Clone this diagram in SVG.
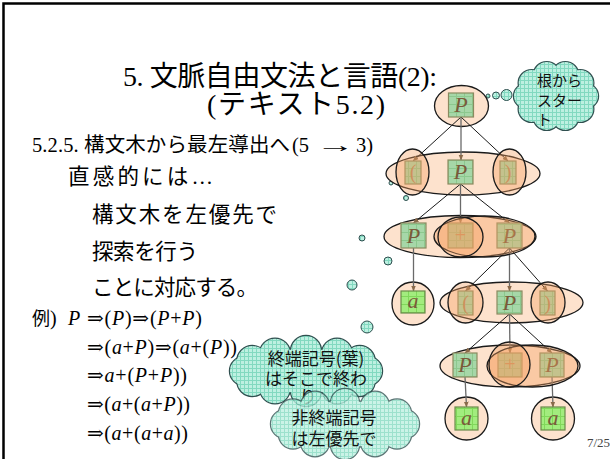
<svg xmlns="http://www.w3.org/2000/svg" width="610" height="459" viewBox="0 0 610 459">
<defs>
<style>
.ttl{font-family:"Liberation Serif","Noto Sans CJK JP",serif;font-size:28px;fill:#000;}
.b20{font-family:"Liberation Serif","Noto Sans CJK JP",serif;font-size:20.5px;fill:#000;}
.b22{font-family:"Liberation Serif","Noto Sans CJK JP",serif;font-size:21.5px;fill:#000;}
.ex{font-family:"Liberation Serif","DejaVu Serif","Noto Sans CJK JP",serif;font-size:20px;fill:#000;}
.jp{font-family:"Noto Sans CJK JP",sans-serif;font-size:18px;}
.i{font-style:italic;}
.big{fill:#fde2cd;stroke:#1a1a1a;stroke-width:1.3;}
.ov{fill:#f5a060;fill-opacity:.38;stroke:#1a1a1a;stroke-width:1.3;}
.bp{fill:url(#gP);stroke:#8a8a60;stroke-width:1.2;}
.ba{fill:url(#gA);stroke:#6a8a4a;stroke-width:1.2;}
.lp{font-family:"Liberation Serif",serif;font-style:italic;font-size:22px;fill:#7a5a3a;text-anchor:middle;}
.lt{font-family:"Liberation Serif",serif;font-size:20px;fill:#b8865a;text-anchor:middle;}
.ed{stroke:#6a6a6a;stroke-width:1.3;fill:none;marker-end:url(#ah);}
.dg{stroke:#1a1a1a;stroke-width:1;fill:none;marker-end:url(#ah);}
.cl{font-family:"Noto Sans CJK JP",sans-serif;fill:#111;}
.dot{fill:url(#cp);stroke:#2f4f4f;stroke-width:1;}
</style>
<pattern id="cp" width="4" height="4" patternUnits="userSpaceOnUse"><rect width="4" height="4" fill="#bdf0e1"/><path d="M0 .5H4M.5 0V4" stroke="#82d9c0" stroke-width="1"/></pattern>
<pattern id="gP" width="8" height="8" patternUnits="userSpaceOnUse"><rect width="8" height="8" fill="#a6d7a8"/><path d="M0 .5H8M.5 0V8" stroke="#8cc88e" stroke-width="1"/></pattern>
<pattern id="gA" width="8" height="8" patternUnits="userSpaceOnUse"><rect width="8" height="8" fill="#a2ec7e"/><path d="M0 .5H8M.5 0V8" stroke="#80d85a" stroke-width="1"/></pattern>
<marker id="ah" viewBox="0 0 10 10" refX="9" refY="5" markerWidth="6" markerHeight="6" markerUnits="userSpaceOnUse" orient="auto"><path d="M0,1L10,5L0,9z" fill="#8a6a4a"/></marker>
<g id="cloudA">
<circle cx="586" cy="96" r="12"/><circle cx="580.3" cy="108.9" r="13"/><circle cx="565.3" cy="116.9" r="13"/><circle cx="546.7" cy="116.9" r="13"/><circle cx="531.7" cy="108.9" r="13"/><circle cx="526" cy="96" r="12"/><circle cx="531.7" cy="83.1" r="13"/><circle cx="546.7" cy="75.1" r="13"/><circle cx="565.3" cy="75.1" r="13"/><circle cx="580.3" cy="83.1" r="13"/><ellipse cx="556" cy="96" rx="32" ry="24"/>
</g>
<g id="cloudB">
<circle cx="368" cy="371" r="14"/><circle cx="359.7" cy="381" r="15"/><circle cx="337" cy="388.3" r="15"/><circle cx="306" cy="391" r="15"/><circle cx="275" cy="388.3" r="15"/><circle cx="252.3" cy="381" r="15"/><circle cx="244" cy="371" r="14"/><circle cx="252.3" cy="361" r="15"/><circle cx="275" cy="353.7" r="15"/><circle cx="306" cy="351" r="15"/><circle cx="337" cy="353.7" r="15"/><circle cx="359.7" cy="361" r="15"/><ellipse cx="306" cy="371" rx="64" ry="22"/>
</g>
<g id="cloudC">
<circle cx="405" cy="424" r="14"/><circle cx="397" cy="434.5" r="14"/><circle cx="375" cy="442.2" r="14"/><circle cx="345" cy="445" r="14"/><circle cx="315" cy="442.2" r="14"/><circle cx="293" cy="434.5" r="14"/><circle cx="285" cy="424" r="14"/><circle cx="293" cy="413.5" r="14"/><circle cx="315" cy="405.8" r="14"/><circle cx="345" cy="403" r="14"/><circle cx="375" cy="405.8" r="14"/><circle cx="397" cy="413.5" r="14"/><ellipse cx="345" cy="424" rx="62" ry="23"/>
</g>
</defs>

<rect width="610" height="459" fill="#fff"/>
<path d="M3.5 459V3.5H610" fill="none" stroke="#000" stroke-width="2.5"/>

<g id="title">
<text class="ttl" x="123" y="86" textLength="314" lengthAdjust="spacing">5. 文脈自由文法と言語(2):</text>
<text class="ttl" x="207" y="114" textLength="178" lengthAdjust="spacing">(テキスト5.2)</text>
</g>

<g id="body">
<text class="b20" x="32" y="152" textLength="258" lengthAdjust="spacing">5.2.5. 構文木から最左導出へ</text>
<text class="b20" x="292" y="152">(5</text>
<text class="b20" transform="translate(316 152) scale(1.9 1)" x="0" y="0">→</text>
<text class="b20" x="356" y="152">3)</text>
<text class="b22" x="68" y="184" textLength="145" lengthAdjust="spacing">直感的には…</text>
<text class="b22" x="92" y="222" textLength="185" lengthAdjust="spacing">構文木を左優先で</text>
<text class="b22" x="92" y="259" textLength="106" lengthAdjust="spacing">探索を行う</text>
<text class="b22" x="92" y="295" textLength="166" lengthAdjust="spacing">ことに対応する。</text>
</g>

<g id="example">
<text class="ex" x="32" y="325"><tspan class="jp">例</tspan>)</text>
<text class="ex i" x="68" y="325">P</text>
<text class="ex" x="87" y="325" textLength="115" lengthAdjust="spacing">⇒(<tspan class="i">P</tspan>)⇒(<tspan class="i">P</tspan>+<tspan class="i">P</tspan>)</text>
<text class="ex" x="87" y="354" textLength="150" lengthAdjust="spacing">⇒(<tspan class="i">a</tspan>+<tspan class="i">P</tspan>)⇒(<tspan class="i">a</tspan>+(<tspan class="i">P</tspan>))</text>
<text class="ex" x="87" y="382" textLength="100" lengthAdjust="spacing">⇒<tspan class="i">a</tspan>+(<tspan class="i">P</tspan>+<tspan class="i">P</tspan>))</text>
<text class="ex" x="87" y="411" textLength="103" lengthAdjust="spacing">⇒(<tspan class="i">a</tspan>+(<tspan class="i">a</tspan>+<tspan class="i">P</tspan>))</text>
<text class="ex" x="87" y="440" textLength="101" lengthAdjust="spacing">⇒(<tspan class="i">a</tspan>+(<tspan class="i">a</tspan>+<tspan class="i">a</tspan>))</text>
</g>

<g id="bubbles">
<circle class="dot" cx="488" cy="96" r="2"/>
<circle class="dot" cx="496" cy="95.5" r="3.5"/>
<circle class="dot" cx="506.5" cy="95" r="5.5"/>
<circle class="dot" cx="391" cy="183" r="2"/>
<circle class="dot" cx="406" cy="198" r="2.5"/>
<circle class="dot" cx="388" cy="261" r="4"/>
<circle class="dot" cx="362" cy="238" r="3"/>
<circle class="dot" cx="352" cy="285" r="5"/>
<circle class="dot" cx="367" cy="327" r="6"/>
</g>

<g id="cloud-root">
<use href="#cloudA" fill="url(#cp)" stroke="#2f4f4f" stroke-width="2.4"/>
<use href="#cloudA" fill="url(#cp)" stroke="none"/>
<text class="cl" font-size="15" x="537" y="86">根から</text>
<text class="cl" font-size="15" x="537" y="106">スター</text>
<text class="cl" font-size="15" x="537" y="125">ト</text>
</g>

<g id="cloud-leaf">
<use href="#cloudB" fill="url(#cp)" stroke="#2f4f4f" stroke-width="2.4"/>
<use href="#cloudB" fill="url(#cp)" stroke="none"/>
<text class="cl" font-size="17" x="316" y="365" text-anchor="middle">終端記号(葉)</text>
<text class="cl" font-size="17" x="316" y="385" text-anchor="middle">はそこで終わ</text>
<text class="cl" font-size="17" x="308" y="403" text-anchor="middle">り</text>
</g>

<g id="cloud-nonterm">
<g opacity="0.78">
<use href="#cloudC" fill="url(#cp)" stroke="#2f4f4f" stroke-width="2.4"/>
<use href="#cloudC" fill="url(#cp)" stroke="none"/>
</g>
<text class="cl" font-size="17" x="334" y="424" text-anchor="middle">非終端記号</text>
<text class="cl" font-size="17" x="334" y="445" text-anchor="middle">は左優先で</text>
</g>

<g id="groups-back">
<ellipse class="big" cx="461.5" cy="106" rx="27" ry="20.5"/>
<ellipse class="big" cx="463" cy="173.5" rx="77" ry="21.5"/>
<ellipse class="big" cx="460" cy="236.5" rx="76" ry="21"/>
<ellipse class="big" cx="413" cy="303.5" rx="21" ry="21.5"/>
<ellipse class="big" cx="511.5" cy="302.5" rx="71.5" ry="20.5"/>
<ellipse class="big" cx="510" cy="366" rx="70" ry="21"/>
<circle class="big" cx="466.5" cy="418.5" r="21.5"/>
<circle class="big" cx="553" cy="418.5" r="21.5"/>
</g>

<g id="connectors">
<line class="dg" x1="461" y1="117" x2="413" y2="161"/>
<line class="ed" x1="461" y1="117" x2="461" y2="160"/>
<line class="dg" x1="461" y1="117" x2="508" y2="161"/>
<line class="dg" x1="460.5" y1="184" x2="413.5" y2="223"/>
<line class="ed" x1="460.5" y1="184" x2="460.5" y2="223"/>
<line class="dg" x1="460.5" y1="184" x2="509.5" y2="223"/>
<line class="ed" x1="413.5" y1="248" x2="413.5" y2="291"/>
<line class="dg" x1="509.5" y1="248" x2="465.5" y2="291"/>
<line class="ed" x1="509.5" y1="248" x2="509.5" y2="291"/>
<line class="dg" x1="509.5" y1="248" x2="547.5" y2="291"/>
<line class="dg" x1="509.5" y1="314" x2="465" y2="353"/>
<line class="ed" x1="509.5" y1="314" x2="510" y2="353"/>
<line class="dg" x1="509.5" y1="314" x2="552" y2="353"/>
<line class="ed" x1="465" y1="377" x2="466.5" y2="407"/>
<line class="ed" x1="552" y1="377" x2="553" y2="407"/>
</g>

<g id="n-root"><rect class="bp" x="448.5" y="93" width="25" height="24"/><text class="lp" x="461" y="112">P</text></g>
<g id="n1-lp"><rect class="bp" x="405" y="161" width="16" height="23"/><text class="lt" x="413" y="179">(</text></g>
<g id="n1-p"><rect class="bp" x="448" y="160" width="25" height="24"/><text class="lp" x="460.5" y="179">P</text></g>
<g id="n1-rp"><rect class="bp" x="500" y="161" width="16" height="23"/><text class="lt" x="508" y="179">)</text></g>
<g id="n2-p1"><rect class="bp" x="401" y="223" width="25" height="25"/><text class="lp" x="413.5" y="243">P</text></g>
<g id="n2-plus"><rect class="bp" x="448" y="223" width="25" height="25"/><text class="lt" x="460.5" y="242">+</text></g>
<g id="n2-p2"><rect class="bp" x="497" y="223" width="25" height="25"/><text class="lp" x="509.5" y="243">P</text></g>
<g id="n3-a"><rect class="ba" x="401" y="291" width="24" height="22"/><text class="lp" x="413" y="308">a</text></g>
<g id="n3-lp"><rect class="bp" x="458" y="291" width="15" height="24"/><text class="lt" x="465.5" y="310">(</text></g>
<g id="n3-p"><rect class="bp" x="497" y="291" width="25" height="23"/><text class="lp" x="509.5" y="310">P</text></g>
<g id="n3-rp"><rect class="bp" x="540" y="291" width="15" height="24"/><text class="lt" x="547.5" y="310">)</text></g>
<g id="n4-p1"><rect class="bp" x="453" y="353" width="24" height="24"/><text class="lp" x="465" y="372">P</text></g>
<g id="n4-plus"><rect class="bp" x="498" y="353" width="24" height="24"/><text class="lt" x="510" y="371">+</text></g>
<g id="n4-p2"><rect class="bp" x="540" y="353" width="24" height="24"/><text class="lp" x="552" y="372">P</text></g>
<g id="n5-a1"><rect class="ba" x="455" y="407" width="23" height="23"/><text class="lp" x="466.5" y="425">a</text></g>
<g id="n5-a2"><rect class="ba" x="541" y="407" width="24" height="23"/><text class="lp" x="553" y="425">a</text></g>

<g id="groups-front">
<ellipse class="ov" cx="412.5" cy="172" rx="16.5" ry="23"/>
<ellipse class="ov" cx="509.5" cy="172" rx="16.5" ry="23"/>
<ellipse class="ov" cx="484.5" cy="236.5" rx="50.5" ry="20.5"/>
<ellipse class="ov" cx="460.5" cy="237" rx="22.5" ry="20"/>
<ellipse class="ov" cx="465.5" cy="302.5" rx="17.5" ry="20.5"/>
<ellipse class="ov" cx="548" cy="302.5" rx="17" ry="20.5"/>
<ellipse class="ov" cx="532.5" cy="366" rx="45.5" ry="21"/>
<ellipse class="ov" cx="509.5" cy="364.5" rx="20.5" ry="22.5"/>
</g>

<text x="587" y="447" font-family="Liberation Serif, serif" font-size="13" fill="#444">7/25</text>
</svg>
